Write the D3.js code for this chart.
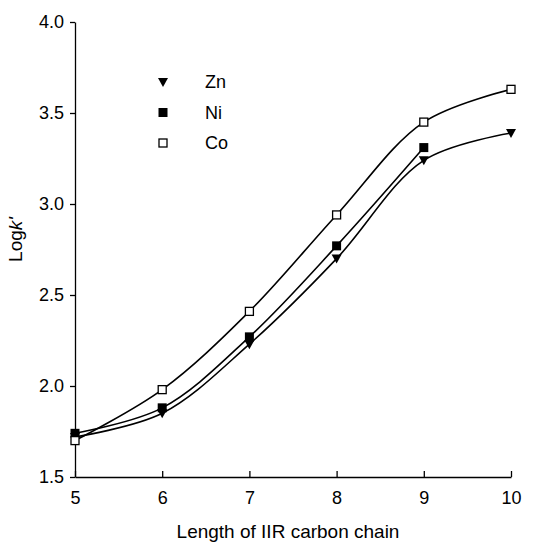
<!DOCTYPE html>
<html>
<head>
<meta charset="utf-8">
<script src="https://cdn.jsdelivr.net/npm/d3@7"></script>
<style>
  body { margin: 0; background: #fff; }
  text { font-family: "Liberation Sans", Arial, sans-serif; fill: #000; }
  .axis path, .axis line { stroke: #000; stroke-width: 1.3; }
  .axis text { font-size: 18px; }
</style>
</head>
<body>
<div id="svgcontainer"></div>
<script>
var chainLength = [5, 6, 7, 8, 9, 10];
var zn = [1.72, 1.85, 2.23, 2.70, 3.24, 3.39];
var ni = [1.74, 1.88, 2.27, 2.77, 3.31];
var co = [1.70, 1.98, 2.41, 2.94, 3.45, 3.63];
var xTicks = [5, 6, 7, 8, 9, 10];
var yTicks = [1.5, 2.0, 2.5, 3.0, 3.5, 4.0];

var margin = {top: 22, right: 35, bottom: 68, left: 75},
    width = 546 - margin.left - margin.right,
    height = 545 - margin.top - margin.bottom,
    svg = d3.select("div#svgcontainer")
            .append("svg")
            .attr("width", 546)
            .attr("height", 545),
    g = svg.append("g")
           .attr("transform", "translate(" + margin.left + "," + margin.top + ")");

var x = d3.scaleLinear().domain([5, 10]).range([0, width]);
var y = d3.scaleLinear().domain([1.5, 4.0]).range([height, 0]);

var line = d3.line()
    .curve(d3.curveCatmullRom.alpha(0.5))
    .x(function(d){ return x(d.x); })
    .y(function(d){ return y(d.y); });

var series = [
  {label: "Zn", values: zn, shape: "tri"},
  {label: "Ni", values: ni, shape: "fill"},
  {label: "Co", values: co, shape: "open"}
].map(function(s){
  s.points = s.values.map(function(v, i){ return {x: chainLength[i], y: v}; });
  return s;
});

// axes
g.append("g")
  .attr("class", "axis axis--x")
  .attr("transform", "translate(0," + height + ")")
  .call(d3.axisBottom(x).tickValues(xTicks).tickSize(-6).tickSizeOuter(0).tickPadding(14).tickFormat(d3.format("d")));

g.append("g")
  .attr("class", "axis axis--y")
  .call(d3.axisLeft(y).tickValues(yTicks).tickSize(5).tickSizeOuter(0).tickPadding(6).tickFormat(d3.format(".1f")));

g.append("text")
  .attr("x", width / 2 - 5)
  .attr("y", height + 61)
  .attr("text-anchor", "middle")
  .style("font-size", "19px")
  .text("Length of IIR carbon chain");

var yl = g.append("text")
  .attr("transform", "rotate(-90)")
  .attr("x", -height / 2 + 10)
  .attr("y", -53)
  .attr("text-anchor", "middle")
  .style("font-size", "19px");
yl.append("tspan").text("Log");
yl.append("tspan").style("font-style", "italic").text("k'");

// lines
g.selectAll(".seq")
  .data(series)
  .enter().append("path")
  .attr("class", "seq")
  .attr("d", function(s){ return line(s.points); })
  .style("fill", "none")
  .style("stroke", "#000")
  .style("stroke-width", 1.6);

function drawMarker(sel, shape) {
  if (shape === "tri") {
    sel.append("path")
      .attr("d", "M-5,-4L5,-4L0,5Z")
      .style("fill", "#000");
  } else if (shape === "fill") {
    sel.append("rect")
      .attr("x", -4.5).attr("y", -4.5).attr("width", 9).attr("height", 9)
      .style("fill", "#000");
  } else {
    sel.append("rect")
      .attr("x", -4).attr("y", -4).attr("width", 8).attr("height", 8)
      .style("fill", "#fff").style("stroke", "#000").style("stroke-width", 1.3);
  }
}

series.forEach(function(s){
  g.selectAll(".pt-" + s.label)
    .data(s.points)
    .enter().append("g")
    .attr("transform", function(d){ return "translate(" + x(d.x) + "," + y(d.y) + ")"; })
    .each(function(){ drawMarker(d3.select(this), s.shape); });
});

// legend
var legend = g.selectAll(".legend")
  .data(series)
  .enter().append("g")
  .attr("class", "legend")
  .attr("transform", function(d, i){ return "translate(" + 88 + "," + (60 + i * 30.5) + ")"; });

legend.each(function(d){ drawMarker(d3.select(this), d.shape); });
legend.append("text")
  .attr("x", 42)
  .attr("y", 6)
  .style("font-size", "18px")
  .text(function(d){ return d.label; });
</script>
</body>
</html>
